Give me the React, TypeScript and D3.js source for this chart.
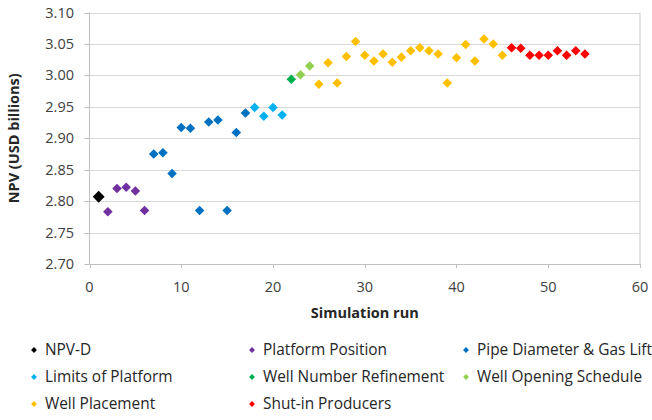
import React from "react";
import * as d3 from "d3";

const yTicks = [2.7, 2.75, 2.8, 2.85, 2.9, 2.95, 3.0, 3.05, 3.1];
const xTicks = [0, 10, 20, 30, 40, 50, 60];

const npvDRuns = [1];
const npvDValues = [2.807];
const platformRuns = [2, 3, 4, 5, 6];
const platformValues = [2.783, 2.82, 2.822, 2.816, 2.785];
const pipeRuns = [7, 8, 9, 10, 11, 12, 13, 14, 15, 16, 17];
const pipeValues = [2.875, 2.877, 2.844, 2.917, 2.916, 2.785, 2.926, 2.929, 2.785, 2.909, 2.94];
const limitsRuns = [18, 19, 20, 21];
const limitsValues = [2.949, 2.935, 2.949, 2.937];
const wellNumberRuns = [22];
const wellNumberValues = [2.994];
const wellOpeningRuns = [23, 24];
const wellOpeningValues = [3.001, 3.015];
const wellPlacementRuns = [25, 26, 27, 28, 29, 30, 31, 32, 33, 34, 35, 36, 37, 38, 39, 40, 41, 42, 43, 44, 45];
const wellPlacementValues = [2.986, 3.02, 2.988, 3.03, 3.054, 3.032, 3.023, 3.034, 3.021, 3.029, 3.039, 3.044, 3.039, 3.034, 2.988, 3.028, 3.049, 3.023, 3.058, 3.05, 3.032];
const shutInRuns = [46, 47, 48, 49, 50, 51, 52, 53, 54];
const shutInValues = [3.044, 3.043, 3.032, 3.032, 3.032, 3.039, 3.032, 3.039, 3.034];

const series = [
  { name: "NPV-D", color: "#000000", runs: npvDRuns, values: npvDValues, size: 90 },
  { name: "Platform Position", color: "#7030A0", runs: platformRuns, values: platformValues, size: 58 },
  { name: "Pipe Diameter & Gas Lift", color: "#0070C0", runs: pipeRuns, values: pipeValues, size: 58 },
  { name: "Limits of Platform", color: "#00B0F0", runs: limitsRuns, values: limitsValues, size: 58 },
  { name: "Well Number Refinement", color: "#00B050", runs: wellNumberRuns, values: wellNumberValues, size: 58 },
  { name: "Well Opening Schedule", color: "#92D050", runs: wellOpeningRuns, values: wellOpeningValues, size: 58 },
  { name: "Well Placement", color: "#FFC000", runs: wellPlacementRuns, values: wellPlacementValues, size: 58 },
  { name: "Shut-in Producers", color: "#FF0000", runs: shutInRuns, values: shutInValues, size: 58 },
];

const W = 652;
const H = 420;
const left = 89.5;
const right = 640;
const top = 12.5;
const bottom = 264;
const font = "'Open Sans', 'Noto Sans', sans-serif";

export default function App() {
  const x = d3.scaleLinear().domain([0, 60]).range([left, right]);
  const y = d3.scaleLinear().domain([2.7, 3.1]).range([bottom, top]);
  const sym = d3.symbol().type(d3.symbolDiamond2);
  const legendCols = [34, 252, 466];
  const legendRows = [350, 377, 404];

  return (
    <svg width={W} height={H} style={{ position: "absolute", left: 0, top: 0, background: "#fff" }} fontFamily={font}>
      {yTicks.map((t) => (
        <line key={"g" + t} x1={left} x2={right} y1={Math.round(y(t)) + 0.5} y2={Math.round(y(t)) + 0.5} stroke="#D9D9D9" strokeWidth={1} />
      ))}
      <line x1={right} x2={right} y1={top} y2={bottom} stroke="#C8C8C8" />
      <line x1={left} x2={left} y1={top} y2={bottom} stroke="#BFBFBF" />
      <line x1={left} x2={right} y1={Math.round(bottom) + 0.5} y2={Math.round(bottom) + 0.5} stroke="#BFBFBF" />
      {yTicks.map((t) => (
        <g key={"yt" + t}>
          <line x1={left - 5} x2={left} y1={Math.round(y(t)) + 0.5} y2={Math.round(y(t)) + 0.5} stroke="#BFBFBF" />
          <text x={74} y={y(t)} dy="0.35em" textAnchor="end" fontSize={14.5} fill="#404040">
            {t.toFixed(2)}
          </text>
        </g>
      ))}
      {xTicks.map((t) => (
        <g key={"xt" + t}>
          <line x1={Math.round(x(t)) + 0.5} x2={Math.round(x(t)) + 0.5} y1={bottom} y2={bottom + 4} stroke="#BFBFBF" />
          <text x={x(t)} y={292} textAnchor="middle" fontSize={14.5} fill="#404040">
            {t}
          </text>
        </g>
      ))}
      <text x={(left + right) / 2} y={318} textAnchor="middle" fontSize={14.5} fontWeight="bold" fill="#262626">
        Simulation run
      </text>
      <text transform={`translate(19,${(top + bottom) / 2}) rotate(-90)`} textAnchor="middle" fontSize={14.5} fontWeight="bold" fill="#262626">
        NPV (USD billions)
      </text>
      {series.map((s) => (
        <g key={s.name}>
          {s.runs.map((r, i) => (
            <path key={i} d={sym.size(s.size)() as string} transform={`translate(${x(r)},${y(s.values[i])})`} fill={s.color} />
          ))}
        </g>
      ))}
      {series.map((s, i) => {
        const cx = legendCols[i % 3];
        const cy = legendRows[Math.floor(i / 3)];
        return (
          <g key={"l" + s.name}>
            <path d={sym.size(22)() as string} transform={`translate(${cx},${cy})`} fill={s.color} />
            <text x={cx + 11} y={cy} dy="0.35em" fontSize={15.4} fill="#262626">
              {s.name}
            </text>
          </g>
        );
      })}
    </svg>
  );
}
